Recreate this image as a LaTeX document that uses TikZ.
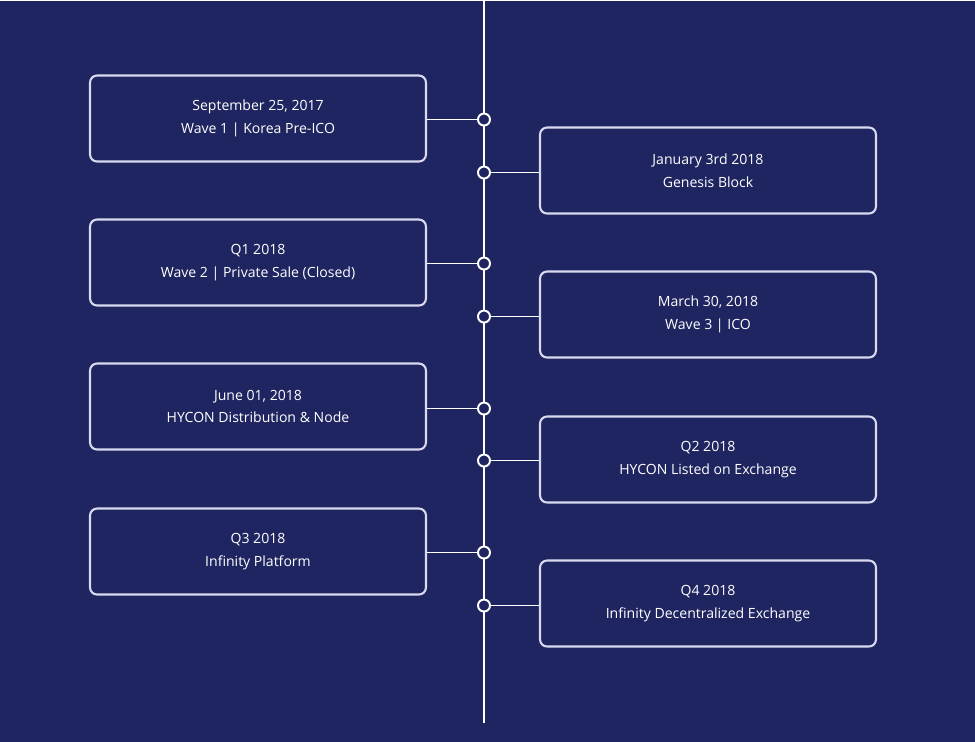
\documentclass[tikz,border=0pt]{standalone}
\usepackage{fontspec}
\setmainfont{Open Sans}
\definecolor{bgblue}{HTML}{1F2560}
\definecolor{rim}{HTML}{D8D9EE}
\begin{document}
\begin{tikzpicture}[x=0.02cm, y=-0.02cm]
  \fill [bgblue] (0, 0) rectangle (975, 741);  % Hintergrund.

  \tikzstyle{event}=[draw=rim, line width=1.2pt, rounded corners=4pt, minimum width=6.72cm, minimum height=1.72cm, text=white, font=\fontsize{8}{13}\selectfont, align=center, inner sep=0pt]
  \tikzstyle{dot}=[circle, draw=white, line width=1.1pt, fill=bgblue, minimum size=0.24cm, inner sep=0pt]
  \tikzstyle{link}=[draw=white, line width=0.6pt]

  \coordinate (top) at (484, 0);
  \coordinate (bottom) at (484, 722);
  \draw[link] (top) -- (bottom);

  \node[event] (e1) at (258, 118) {September 25, 2017\\Wave 1 | Korea Pre-ICO};
  \node[event] (e2) at (708, 170) {January 3rd 2018\\Genesis Block};
  \node[event] (e3) at (258, 262) {Q1 2018\\Wave 2 | Private Sale (Closed)};
  \node[event] (e4) at (708, 314) {March 30, 2018\\Wave 3 | ICO};
  \node[event] (e5) at (258, 406) {June 01, 2018\\HYCON Distribution \& Node};
  \node[event] (e6) at (708, 459) {Q2 2018\\HYCON Listed on Exchange};
  \node[event] (e7) at (258, 551) {Q3 2018\\Infinity Platform};
  \node[event] (e8) at (708, 603) {Q4 2018\\Infinity Decentralized Exchange};

  \node[dot] (d1) at (484, 119) {};
  \node[dot] (d2) at (484, 172) {};
  \node[dot] (d3) at (484, 263) {};
  \node[dot] (d4) at (484, 316) {};
  \node[dot] (d5) at (484, 408) {};
  \node[dot] (d6) at (484, 460) {};
  \node[dot] (d7) at (484, 552) {};
  \node[dot] (d8) at (484, 605) {};

  \draw[link] (e1.east |- d1) -- (d1);
  \draw[link] (e2.west |- d2) -- (d2);
  \draw[link] (e3.east |- d3) -- (d3);
  \draw[link] (e4.west |- d4) -- (d4);
  \draw[link] (e5.east |- d5) -- (d5);
  \draw[link] (e6.west |- d6) -- (d6);
  \draw[link] (e7.east |- d7) -- (d7);
  \draw[link] (e8.west |- d8) -- (d8);
\end{tikzpicture}
\end{document}
